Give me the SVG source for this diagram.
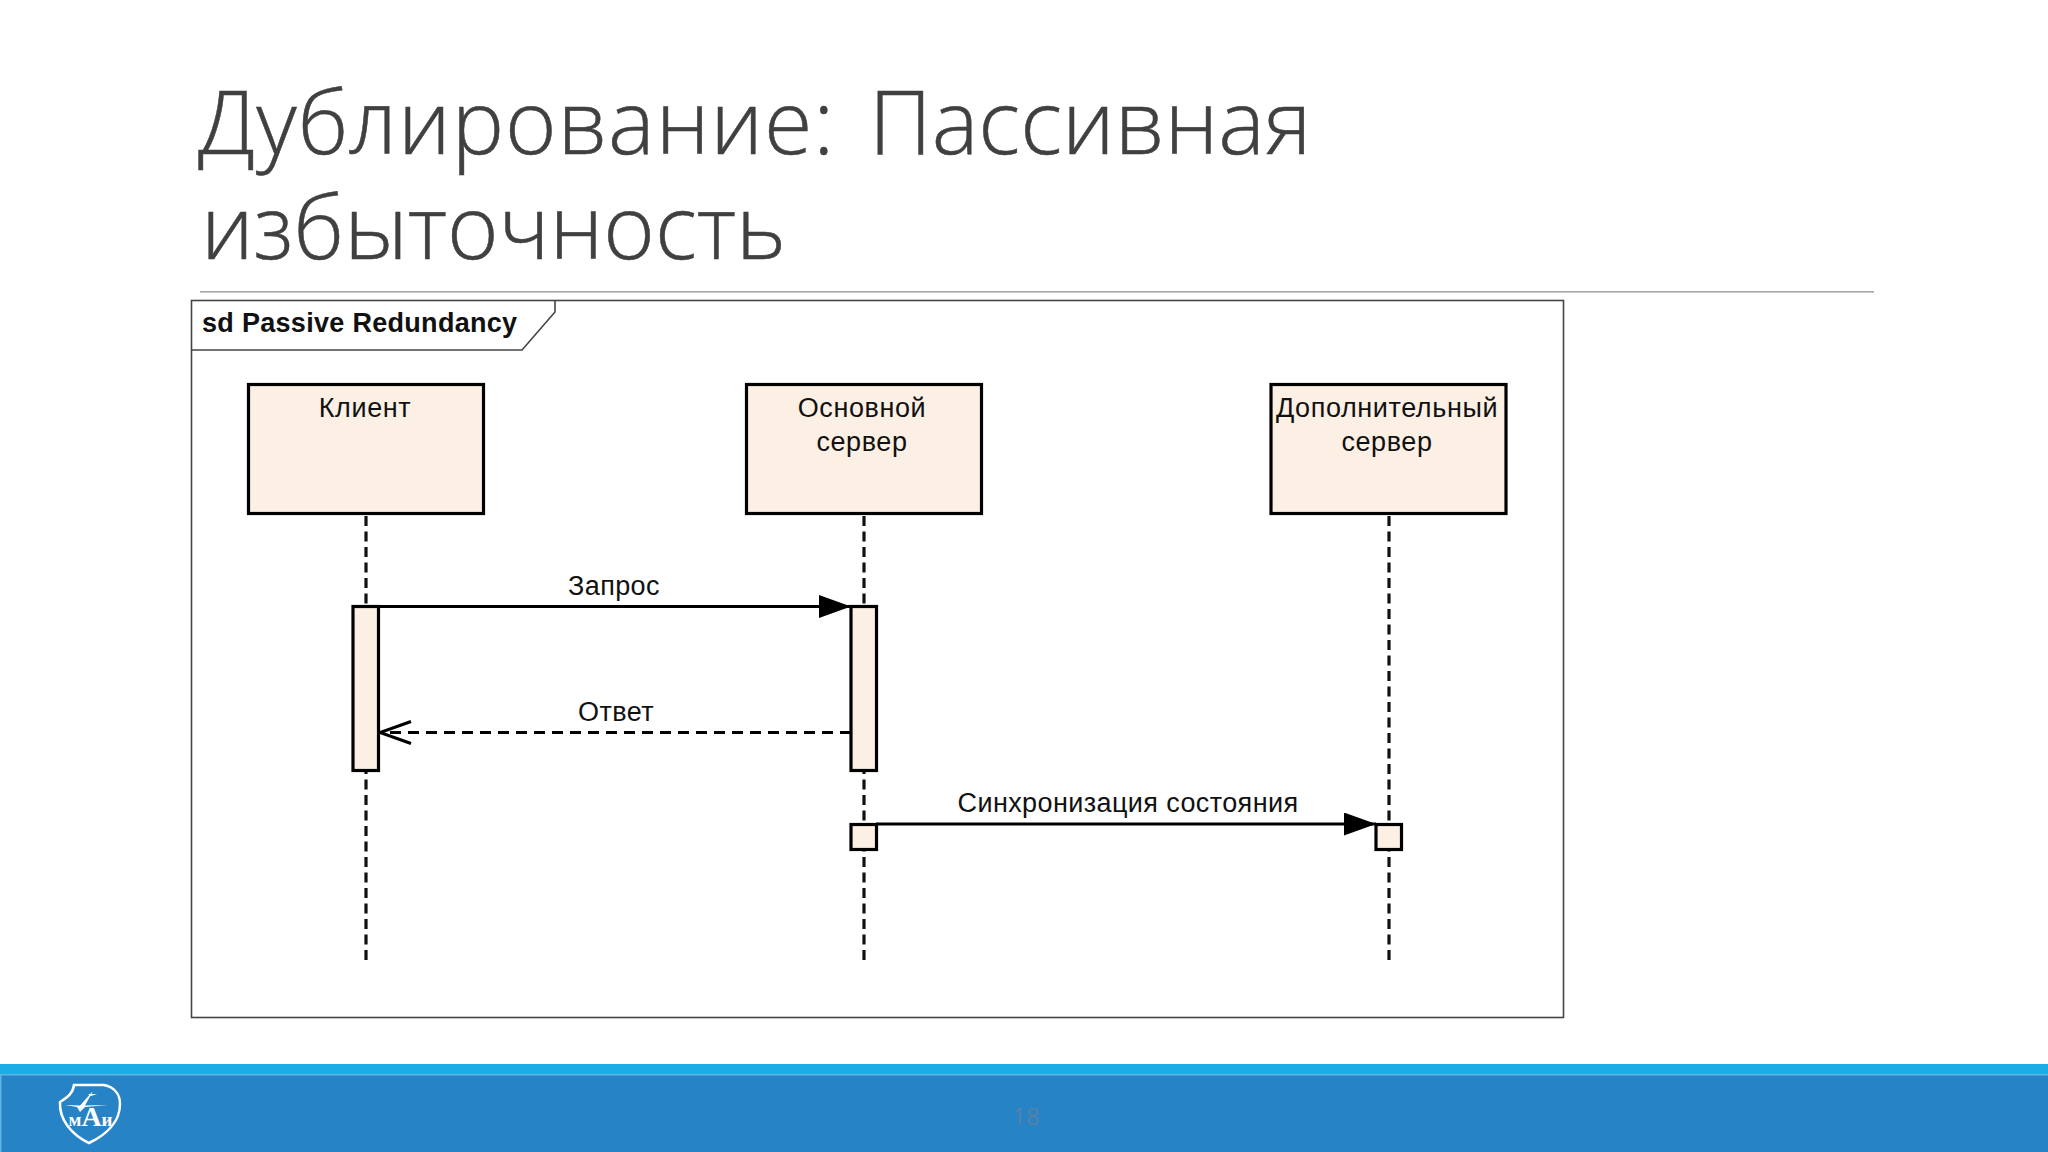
<svg xmlns="http://www.w3.org/2000/svg" width="2048" height="1152" viewBox="0 0 2048 1152">
<defs>
<marker id="solid" markerUnits="userSpaceOnUse" markerWidth="34" markerHeight="26" refX="32" refY="11.500" orient="auto"><path d="M0 0L32 11.500L0 23Z" fill="#000"/></marker>
<marker id="open" markerUnits="userSpaceOnUse" markerWidth="36" markerHeight="28" refX="33" refY="13" orient="auto"><path d="M2 2L33 13L2 24" fill="none" stroke="#000" stroke-width="3"/></marker>
</defs>
<style>
.title{font-family:"Open Sans","Noto Sans",sans-serif;font-weight:300;font-size:88px;fill:#404040;stroke:#404040;stroke-width:.5px}
.lbl{font-family:"Liberation Sans",Arial,sans-serif;font-size:27px;fill:#111;text-anchor:middle;letter-spacing:.6px}
.msgl{letter-spacing:.4px}
.box{fill:#fcf0e4;stroke:#000;stroke-width:3.2}
.life{stroke:#111;stroke-width:3.2;stroke-dasharray:10 5.500;fill:none}
.msg{stroke:#000;stroke-width:3;fill:none}
.frame{fill:none;stroke:#444;stroke-width:1.6}
</style>
<rect width="2048" height="1152" fill="#fff"/>
<text class="title" x="198" y="154" letter-spacing=".9">Дублирование: <tspan dx="10" letter-spacing="0">Пассивная</tspan></text>
<text class="title" x="201" y="259">избыточность</text>
<rect x="200" y="291" width="1674" height="1.6" fill="#a6a6a6"/>
<g id="frame">
<rect class="frame" x="191.500" y="300.500" width="1372" height="717"/>
<path class="frame" d="M191.500 350H522L555 312V300.500"/>
<text x="202" y="332" style="font-family:'Liberation Sans',Arial,sans-serif;font-weight:700;font-size:27px;letter-spacing:.3px;fill:#111">sd Passive Redundancy</text>
</g>
<g id="connectors">
<path class="life" d="M366 516V961"/>
<path class="life" d="M864 516V961"/>
<path class="life" d="M1389 516V961"/>
</g>
<g id="client"><rect class="box" x="248.500" y="384.500" width="235" height="129"/><text class="lbl" x="365" y="417">Клиент</text></g>
<g id="main"><rect class="box" x="746.500" y="384.500" width="235" height="129"/><text class="lbl" x="862" y="417">Основной</text><text class="lbl" x="862" y="451">сервер</text></g>
<g id="backup"><rect class="box" x="1271" y="384.500" width="235" height="129"/><text class="lbl" x="1387" y="417">Дополнительный</text><text class="lbl" x="1387" y="451">сервер</text></g>
<g id="act-client"><rect class="box" x="353" y="606.500" width="25.500" height="164"/></g>
<g id="act-main"><rect class="box" x="851" y="606.500" width="25.500" height="164"/></g>
<g id="act-main-sync"><rect class="box" x="851" y="824.500" width="25.500" height="25"/></g>
<g id="act-backup-sync"><rect class="box" x="1376" y="824.500" width="25.500" height="25"/></g>
<g id="messages">
<path class="msg" d="M378 606.500H851" marker-end="url(#solid)"/>
<text class="lbl msgl" x="614" y="595">Запрос</text>
<path class="msg" d="M851 732.500H380" stroke-dasharray="11 7" marker-end="url(#open)"/>
<text class="lbl msgl" x="616" y="721">Ответ</text>
<path class="msg" d="M876 824H1376" marker-end="url(#solid)"/>
<text class="lbl msgl" x="1128" y="812">Синхронизация состояния</text>
</g>
<g id="footer">
<rect y="1064" width="2048" height="88" fill="#1cade4"/>
<rect y="1074" width="2048" height="78" fill="#2683c6"/>
<rect y="1074" width="2048" height="1.500" fill="#62b4e6"/>
<rect y="1074" width="1.500" height="78" fill="#62b4e6"/>
<text x="1026" y="1125" style="font-family:'Open Sans',sans-serif;font-size:24px;fill:#5880a5;text-anchor:middle">18</text>
</g>
<g id="logo" fill="#fff">
<path d="M74 1085H104C114 1087 120 1094 120 1104C120 1122 106 1135 89 1143C72 1135 59 1120 60 1102C66 1098 73 1094 74 1085Z" fill="none" stroke="#fff" stroke-width="2.500"/>
<path d="M65 1105L80 1105.500L92 1092L92.500 1092L85 1105.500L108 1105L85 1107L80 1112L77 1107Z"/>
<path d="M88 1094L97 1094L91 1096Z"/>
<text x="90.500" y="1126" style="font-family:'Liberation Serif',serif;font-weight:700;font-size:19px;text-anchor:middle">м<tspan font-size="28">А</tspan>и</text>
</g>
</svg>
